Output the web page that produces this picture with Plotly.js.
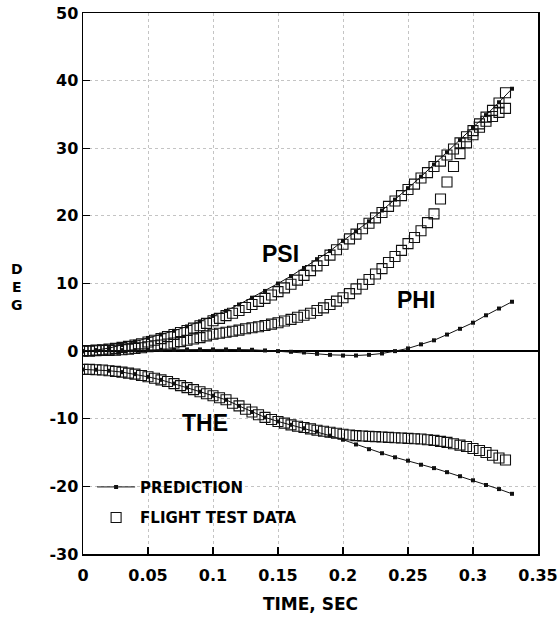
<!DOCTYPE html>
<html>
<head>
<meta charset="utf-8">
<script src="https://cdn.plot.ly/plotly-3.0.1.min.js"></script>
<style>
  html, body { margin: 0; padding: 0; background: #fff; }
  #chart { width: 558px; height: 617px; }
</style>
</head>
<body>
<div id="chart"></div>
<script>
// Flight test data (open squares)
const tData = [
  0,0.005,0.01,0.015,0.02,0.025,0.03,0.035,0.04,0.045,0.05,
  0.055,0.06,0.065,0.07,0.075,0.08,0.085,0.09,0.095,0.1,0.105,
  0.11,0.115,0.12,0.125,0.13,0.135,0.14,0.145,0.15,0.155,0.16,
  0.165,0.17,0.175,0.18,0.185,0.19,0.195,0.2,0.205,0.21,0.215,
  0.22,0.225,0.23,0.235,0.24,0.245,0.25,0.255,0.26,0.265,0.27,
  0.275,0.28,0.285,0.29,0.295,0.3,0.305,0.31,0.315,0.32,0.325
];
const psiData = [
  0.1,0.1,0.15,0.2,0.3,0.4,0.55,0.7,0.9,1.1,1.35,
  1.6,1.85,2.15,2.45,2.75,3.05,3.4,3.75,4.1,4.5,4.85,
  5.25,5.6,6.0,6.45,6.9,7.35,7.8,8.3,8.8,9.35,9.9,
  10.5,11.2,11.9,12.6,13.4,14.2,15.0,15.8,16.6,17.3,18.1,
  18.9,19.7,20.5,21.4,22.2,23.0,23.9,24.7,25.6,26.4,27.3,
  28.1,29.0,29.9,30.8,31.7,32.6,33.6,34.6,35.6,36.7,38.2
];
const phiData = [
  0,0,0.05,0.1,0.1,0.15,0.2,0.3,0.4,0.5,0.65,
  0.8,0.9,1.05,1.2,1.4,1.6,1.8,2.0,2.25,2.5,2.65,
  2.8,2.95,3.1,3.3,3.45,3.6,3.8,4.0,4.2,4.45,4.7,
  5.0,5.3,5.6,6.0,6.4,6.9,7.4,7.9,8.5,9.2,9.9,
  10.6,11.4,12.2,13.1,14.0,14.9,15.9,16.8,17.8,19.0,20.3,
  22.5,25.0,27.3,29.2,30.8,32.0,33.1,34.0,34.7,35.3,35.9
];
const theData = [
  -2.7,-2.7,-2.75,-2.8,-2.9,-3.0,-3.1,-3.25,-3.4,-3.6,-3.8,
  -4.0,-4.25,-4.5,-4.8,-5.1,-5.4,-5.7,-6.0,-6.3,-6.6,-6.9,
  -7.2,-7.7,-8.1,-8.6,-9.0,-9.4,-9.8,-10.1,-10.4,-10.65,-10.9,
  -11.1,-11.3,-11.5,-11.7,-11.85,-12.0,-12.15,-12.3,-12.4,-12.5,-12.55,
  -12.6,-12.65,-12.7,-12.75,-12.8,-12.85,-12.9,-12.95,-13.0,-13.1,-13.2,
  -13.35,-13.5,-13.7,-13.9,-14.1,-14.4,-14.7,-15.0,-15.4,-15.8,-16.1
];

// Prediction (line with small filled squares)
const tPred = [
  0,0.01,0.02,0.03,0.04,0.05,0.06,0.07,0.08,0.09,
  0.1,0.11,0.12,0.13,0.14,0.15,0.16,0.17,0.18,0.19,
  0.2,0.21,0.22,0.23,0.24,0.25,0.26,0.27,0.28,0.29,
  0.3,0.31,0.32,0.33
];
const psiPred = [
  0,0.15,0.45,0.9,1.4,1.95,2.45,3.0,3.65,4.4,
  5.2,5.95,6.9,7.9,8.9,10.0,11.1,12.3,13.6,14.8,
  16.3,17.7,19.2,20.8,22.4,24.1,25.8,27.6,29.4,31.2,
  33.0,34.9,36.8,38.8
];
const phiPred = [
  0,0.05,0.1,0.15,0.15,0.2,0.2,0.2,0.25,0.25,
  0.25,0.25,0.25,0.2,0.1,0.0,-0.1,-0.2,-0.4,-0.55,
  -0.65,-0.65,-0.55,-0.35,0.0,0.4,1.0,1.6,2.45,3.3,
  4.2,5.3,6.3,7.3
];
const thePred = [
  -2.7,-2.75,-2.9,-3.1,-3.4,-3.8,-4.25,-4.8,-5.4,-6.0,
  -6.6,-7.2,-8.1,-9.0,-9.8,-10.4,-10.9,-11.4,-11.9,-12.5,
  -13.1,-13.8,-14.5,-15.1,-15.7,-16.2,-16.8,-17.3,-17.9,-18.5,
  -19.1,-19.8,-20.4,-21.1
];

const xTicks = [0, 0.05, 0.1, 0.15, 0.2, 0.25, 0.3, 0.35];
const xTickText = ['0', '0.05', '0.1', '0.15', '0.2', '0.25', '0.3', '0.35'];
const yTicks = [-30, -20, -10, 0, 10, 20, 30, 40, 50];
const yTickText = ['-30', '-20', '-10', '0', '10', '20', '30', '40', '50'];

const curveLabels = ['PSI', 'PHI', 'THE'];
const curveLabelX = [0.152, 0.256, 0.094];
const curveLabelY = [14.4, 7.6, -10.6];

const legendNames = ['PREDICTION', 'FLIGHT TEST DATA'];

const ink = '#111';
const dataSeries = [psiData, phiData, theData];
const predSeries = [psiPred, phiPred, thePred];

const traces = [];
dataSeries.forEach((ys, i) => {
  traces.push({
    x: tData, y: ys, type: 'scatter', mode: 'markers',
    name: legendNames[1], legendgroup: 'data', legendrank: 2,
    showlegend: i === 0,
    marker: { symbol: 'square-open', size: 10, color: ink, line: { width: 1.1, color: ink } },
    hoverinfo: 'skip'
  });
});
predSeries.forEach((ys, i) => {
  traces.push({
    x: tPred, y: ys, type: 'scatter', mode: 'lines+markers',
    name: legendNames[0], legendgroup: 'pred', legendrank: 1,
    showlegend: i === 0,
    line: { color: ink, width: 1 },
    marker: { symbol: 'square', size: 4, color: ink },
    hoverinfo: 'skip'
  });
});

const tickFont = { family: 'DejaVu Sans, sans-serif', size: 16, color: '#000', weight: 'bold' };

const annotations = curveLabels.map((txt, i) => ({
  x: curveLabelX[i], y: curveLabelY[i], xref: 'x', yref: 'y',
  text: txt, showarrow: false,
  font: { family: 'Liberation Sans, Arial, sans-serif', size: 23, color: '#000', weight: 'bold' }
}));
annotations.push({
  x: -0.145, y: 0.4935, xref: 'paper', yref: 'paper',
  text: 'D<br>E<br>G', showarrow: false, xanchor: 'center', yanchor: 'middle',
  font: { family: 'DejaVu Sans, sans-serif', size: 14, color: '#000', weight: 'bold' }
});

const layout = {
  width: 558, height: 617,
  margin: { l: 83, r: 20, t: 13, b: 63 },
  paper_bgcolor: '#fff', plot_bgcolor: '#fff',
  showlegend: true,
  legend: {
    x: 0.02, y: 0.154, xanchor: 'left', yanchor: 'top',
    bgcolor: 'rgba(0,0,0,0)', borderwidth: 0,
    font: { family: 'DejaVu Sans, sans-serif', size: 15, color: '#000', weight: 'bold' },
    tracegroupgap: 8, itemwidth: 38
  },
  xaxis: {
    range: [0, 0.35], tickvals: xTicks, ticktext: xTickText,
    ticks: 'inside', ticklen: 7, tickwidth: 1.2, tickcolor: '#000',
    showline: true, linecolor: '#000', linewidth: 1.5, mirror: true,
    showgrid: true, gridcolor: '#c4c4c4', griddash: 'dot', gridwidth: 1,
    zeroline: false, tickfont: tickFont, ticklabelstandoff: 6,
    title: { text: 'TIME, SEC', font: { family: 'DejaVu Sans, sans-serif', size: 17, color: '#000', weight: 'bold' }, standoff: 14 }
  },
  yaxis: {
    range: [-30, 50], tickvals: yTicks, ticktext: yTickText,
    ticks: 'inside', ticklen: 7, tickwidth: 1.2, tickcolor: '#000',
    showline: true, linecolor: '#000', linewidth: 1.5, mirror: true,
    showgrid: true, gridcolor: '#c4c4c4', griddash: 'dot', gridwidth: 1,
    zeroline: true, zerolinecolor: '#000', zerolinewidth: 1.5,
    tickfont: tickFont
  },
  annotations: annotations
};

Plotly.newPlot('chart', traces, layout, { displayModeBar: false, staticPlot: true });
</script>
</body>
</html>
